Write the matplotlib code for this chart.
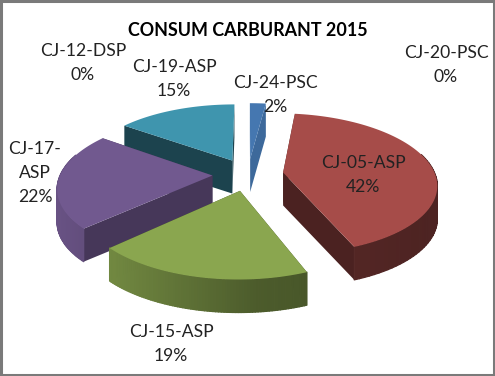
import numpy as np
import matplotlib
matplotlib.use('Agg')
import matplotlib.pyplot as plt
from matplotlib.collections import PolyCollection
from matplotlib.colors import to_rgb
from matplotlib.patches import Rectangle

names = ['CJ-24-PSC', 'CJ-05-ASP', 'CJ-15-ASP', 'CJ-17-ASP', 'CJ-12-DSP', 'CJ-19-ASP', 'CJ-20-PSC']
values = [2, 42, 19, 22, 0, 15, 0]
colors = ['#4577b0', '#a64c49', '#8aa64f', '#71598f', '#000000', '#3f95ae', '#000000']
cut_shade = [0.88, 0.45, 0.45, 0.62, 0.5, 0.45, 0.5]
title = 'CONSUM CARBURANT 2015'

# pie geometry in pixels
cx, cy = 248, 174.5
rx, ry = 152, 69
persp = 0.157
expl = 0.234
depth = 33

label_text = ['CJ-24-PSC\n2%', 'CJ-05-ASP\n42%', 'CJ-15-ASP\n19%', 'CJ-17-\nASP\n22%',
              'CJ-12-DSP\n0%', 'CJ-19-ASP\n15%', 'CJ-20-PSC\n0%']
label_pos = [(275, 95), (363, 175), (171, 344), (35, 173), (83, 63), (174, 79), (446, 65)]

plt.rcParams['font.family'] = ['Lato', 'DejaVu Sans']
fig = plt.figure(figsize=(4.95, 3.76), dpi=100)
ax = fig.add_axes([0, 0, 1, 1])
ax.set_xlim(0, 495)
ax.set_ylim(376, 0)
ax.axis('off')


def project(X, Y):
    w = 1 + persp * Y
    return cx + rx * X / w, cy - ry * Y / w


def darker(col, s):
    return tuple(c * s for c in to_rgb(col))


def rim_shade(x):
    # light on the left of the pie, dark on the right
    return np.interp(x, [cx - 190, cx + 10, cx + 190], [0.92, 0.55, 0.46])


total = float(sum(values))
edges = np.cumsum([0] + values) / total * 2 * np.pi
slices = []
for i, v in enumerate(values):
    if v == 0:
        continue
    mid = (edges[i] + edges[i + 1]) / 2
    slices.append((np.cos(mid), i, mid))
slices.sort(reverse=True)

for _, i, mid in slices:
    a = np.linspace(edges[i], edges[i + 1], 80)
    ox, oy = expl * np.sin(mid), expl * np.cos(mid)
    X = ox + np.sin(a)
    Y = oy + np.cos(a)
    sx, sy = project(X, Y)
    ax_, ay_ = project(ox, oy)
    col = colors[i]
    # cut faces
    for j in (0, -1):
        ax.fill([ax_, sx[j], sx[j], ax_], [ay_, sy[j], sy[j] + depth, ay_ + depth],
                color=darker(col, cut_shade[i]), lw=0, zorder=1)
    # outer rim, small quads for the gradient, back side stays hidden
    front = [j for j in range(len(a) - 1) if np.cos(a[j]) < 0.3]
    quads = [[(sx[j], sy[j]), (sx[j + 1], sy[j + 1]), (sx[j + 1], sy[j + 1] + depth), (sx[j], sy[j] + depth)]
             for j in front]
    fc = [darker(col, rim_shade(sx[j])) for j in front]
    if quads:
        ax.add_collection(PolyCollection(quads, facecolors=fc, edgecolors=fc, linewidths=0.9, zorder=1))
    ax.fill(np.r_[ax_, sx], np.r_[ay_, sy], color=col, lw=0, zorder=1)

for t, (x, y) in zip(label_text, label_pos):
    ax.text(x, y, t, ha='center', va='center', fontsize=12.6, color='#222222',
            linespacing=1.65, zorder=3)
ax.text(248, 30, title, ha='center', va='center', fontsize=12.9, fontweight='bold',
        color='black', zorder=3)

ax.add_patch(Rectangle((1, 1), 493, 374, fill=False, ec='#7a7a7a', lw=2.2, zorder=4))
fig.savefig('out.png', dpi=100)
